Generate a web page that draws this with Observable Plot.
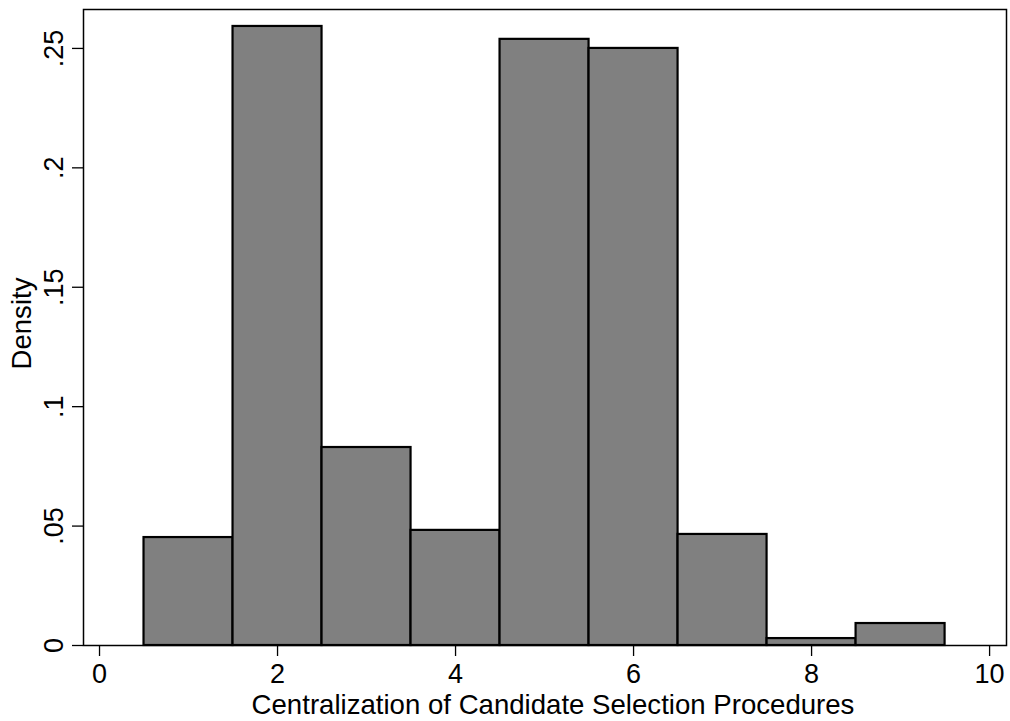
<!DOCTYPE html>
<html>
<head>
<meta charset="utf-8">
<script src="https://cdn.jsdelivr.net/npm/d3@7"></script>
<script src="https://cdn.jsdelivr.net/npm/@observablehq/plot@0.6"></script>
<style>
  html, body { margin: 0; padding: 0; background: #fff; }
  #chart { width: 1010px; height: 721px; }
</style>
</head>
<body>
<div id="chart"></div>
<script>
const binStart = [0.5, 1.5, 2.5, 3.5, 4.5, 5.5, 6.5, 7.5, 8.5];
const binEnd   = [1.5, 2.5, 3.5, 4.5, 5.5, 6.5, 7.5, 8.5, 9.5];
const density  = [0.0452, 0.2592, 0.0829, 0.0482, 0.2538, 0.2500, 0.0465, 0.0029, 0.0092];
const xTicks = [0, 2, 4, 6, 8, 10];
const yTicks = [0, 0.05, 0.1, 0.15, 0.2, 0.25];
const yTickLabels = ["0", ".05", ".1", ".15", ".2", ".25"];
const xTitle = ["Centralization of Candidate Selection Procedures"];
const yTitle = ["Density"];

const bins = binStart.map((s, i) => ({x1: s, x2: binEnd[i], y: density[i]}));

const chart = Plot.plot({
  width: 1010,
  height: 721,
  marginLeft: 83,
  marginRight: 4,
  marginTop: 9,
  marginBottom: 76,
  style: {fontFamily: "'Liberation Sans', Arial, sans-serif", fontSize: "27px", color: "#000", background: "#fff"},
  x: {domain: [-0.18, 10.19]},
  y: {domain: [0, 0.2663]},
  marks: [
    Plot.rectY(bins, {x1: "x1", x2: "x2", y: "y", fill: "#808080", stroke: "#000", strokeWidth: 2.2}),
    Plot.frame({stroke: "#000", strokeWidth: 1.5}),
    Plot.axisX({ticks: xTicks, tickSize: 11, tickPadding: 7, tickFormat: d => String(d), strokeWidth: 1.3, label: null}),
    Plot.axisY({ticks: yTicks, tickSize: 11, tickPadding: 10, tickRotate: -90, strokeWidth: 1.3,
      tickFormat: (d, i) => yTickLabels[yTicks.indexOf(d)], label: null}),
    Plot.text(xTitle, {text: d => d, frameAnchor: "bottom", dx: 8, dy: 68, lineAnchor: "bottom", fontSize: 27.6}),
    Plot.text(yTitle, {text: d => d, frameAnchor: "left", dx: -53, dy: -4, rotate: -90, textAnchor: "middle", lineAnchor: "bottom", fontSize: 27.6})
  ]
});
document.getElementById("chart").appendChild(chart);
</script>
</body>
</html>
